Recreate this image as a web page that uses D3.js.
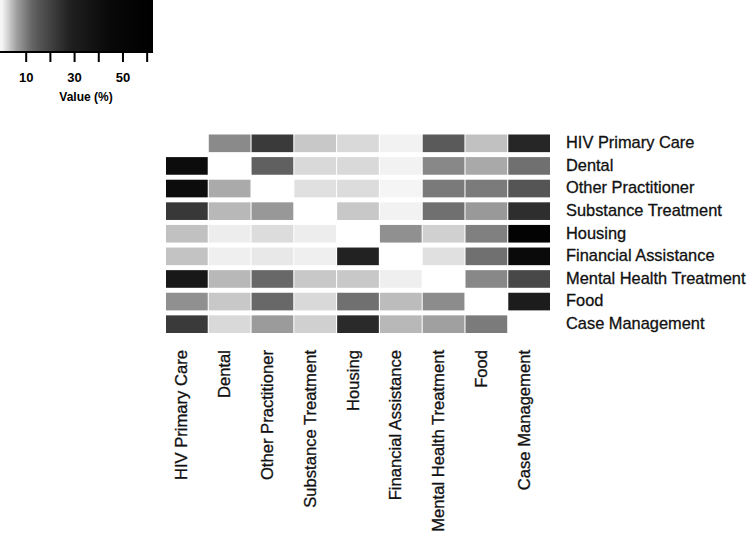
<!DOCTYPE html>
<html>
<head>
<meta charset="utf-8">
<script src="https://cdn.jsdelivr.net/npm/d3@7"></script>
<style>
  body { margin: 0; background: #fff; }
  svg { display: block; font-family: "Liberation Sans", Arial, sans-serif; }
</style>
</head>
<body>
<svg id="chart" width="750" height="542"></svg>
<script>
// services (rows and columns use the same order)
var services = ["HIV Primary Care", "Dental", "Other Practitioner", "Substance Treatment",
  "Housing", "Financial Assistance", "Mental Health Treatment", "Food", "Case Management"];

// value (%) per row, one entry per column; null on the diagonal
var hivPrimaryCare      = [null, 8.4, 21.9, 3.2, 2.0, 0.2, 14.4, 3.7, 26.6];
var dental              = [42.2, null, 13.0, 2.0, 2.0, 0.2, 8.6, 5.4, 11.3];
var otherPractitioner   = [42.2, 5.3, null, 1.5, 1.8, 0.0, 10.2, 10.0, 15.6];
var substanceTreatment  = [22.4, 4.3, 6.9, null, 3.2, 0.2, 11.3, 6.8, 24.7];
var housing             = [3.7, 0.6, 1.8, 0.6, null, 7.8, 2.6, 9.5, 55.0];
var financialAssistance = [3.5, 0.4, 0.9, 0.4, 27.5, null, 1.5, 11.3, 43.6];
var mentalHealth        = [33.7, 4.3, 12.1, 3.2, 3.2, 0.4, null, 8.6, 18.6];
var food                = [7.8, 3.2, 12.1, 2.0, 11.3, 4.0, 8.2, null, 30.8];
var caseManagement      = [21.9, 2.0, 6.6, 2.6, 25.7, 4.3, 6.0, 10.0, null];

var rowsData = [hivPrimaryCare, dental, otherPractitioner, substanceTreatment, housing,
  financialAssistance, mentalHealth, food, caseManagement];

var legendTicks = [10, 20, 30, 40, 50, 60];
var legendLabels = [10, 30, 50];
var legendMax = 62;

var svg = d3.select("#chart");

var color = d3.scaleLinear()
    .domain([0, 6, 13, 28, 45, 62])
    .range(["#f5f5f5", "#a0a0a0", "#606060", "#202020", "#080808", "#000000"])
    .clamp(true);

var x = d3.scaleBand().domain(services).range([166, 550]).paddingInner(0.025);
var y = d3.scaleBand().domain(services).range([134.5, 333]).paddingInner(0.22);

// flatten to cells
var cells = [];
rowsData.forEach(function(row, i) {
  row.forEach(function(v, j) {
    if (v !== null) cells.push({ row: services[i], col: services[j], value: v });
  });
});

svg.append("g")
  .selectAll("rect")
  .data(cells)
  .enter().append("rect")
    .attr("x", function(d) { return x(d.col); })
    .attr("y", function(d) { return y(d.row); })
    .attr("width", x.bandwidth())
    .attr("height", y.bandwidth())
    .attr("fill", function(d) { return color(d.value); });

// row labels on the right
svg.append("g")
  .selectAll("text")
  .data(services)
  .enter().append("text")
    .attr("x", 566)
    .attr("y", function(d) { return y(d) + y.bandwidth() / 2; })
    .attr("dy", "0.3em")
    .style("font-size", "16.4px")
    .style("fill", "#111")
    .style("stroke", "#111")
    .style("stroke-width", "0.3px")
    .text(function(d) { return d; });

// column labels, rotated
svg.append("g")
  .selectAll("text")
  .data(services)
  .enter().append("text")
    .attr("transform", function(d) { return "translate(" + (x(d) + x.bandwidth() / 2 + 0.5) + ",350) rotate(-90)"; })
    .attr("text-anchor", "end")
    .style("font-size", "16.6px")
    .style("fill", "#111")
    .style("stroke", "#111")
    .style("stroke-width", "0.3px")
    .text(function(d) { return d; });

// legend
var lx = d3.scaleLinear().domain([0, legendMax]).range([2, 152]);
var defs = svg.append("defs");
var grad = defs.append("linearGradient")
    .attr("id", "legendGrad")
    .attr("x1", "0%").attr("x2", "100%").attr("y1", "0%").attr("y2", "0%");
d3.range(0, 31).forEach(function(i) {
  var v = legendMax * i / 30;
  grad.append("stop")
    .attr("offset", (lx(v) / 153 * 100) + "%")
    .attr("stop-color", color(v));
});

svg.append("rect")
    .attr("x", 0).attr("y", 0)
    .attr("width", 153).attr("height", 52)
    .attr("fill", "url(#legendGrad)");

var legendAxis = svg.append("g").attr("transform", "translate(0,52)");
legendAxis.append("line")
    .attr("x1", 0).attr("x2", 153)
    .attr("stroke", "#000").attr("stroke-width", 2);
legendAxis.selectAll(".tick")
  .data(legendTicks)
  .enter().append("line")
    .attr("class", "tick")
    .attr("x1", function(d) { return lx(d); })
    .attr("x2", function(d) { return lx(d); })
    .attr("y1", 0).attr("y2", 10)
    .attr("stroke", "#000").attr("stroke-width", 2);
legendAxis.selectAll(".lab")
  .data(legendLabels)
  .enter().append("text")
    .attr("class", "lab")
    .attr("x", function(d) { return lx(d); })
    .attr("y", 30)
    .attr("text-anchor", "middle")
    .style("font-size", "13px")
    .style("font-weight", "bold")
    .text(function(d) { return d; });

svg.append("text")
    .attr("x", 86)
    .attr("y", 101)
    .attr("text-anchor", "middle")
    .style("font-size", "12px")
    .style("font-weight", "bold")
    .text("Value (%)");
</script>
</body>
</html>
